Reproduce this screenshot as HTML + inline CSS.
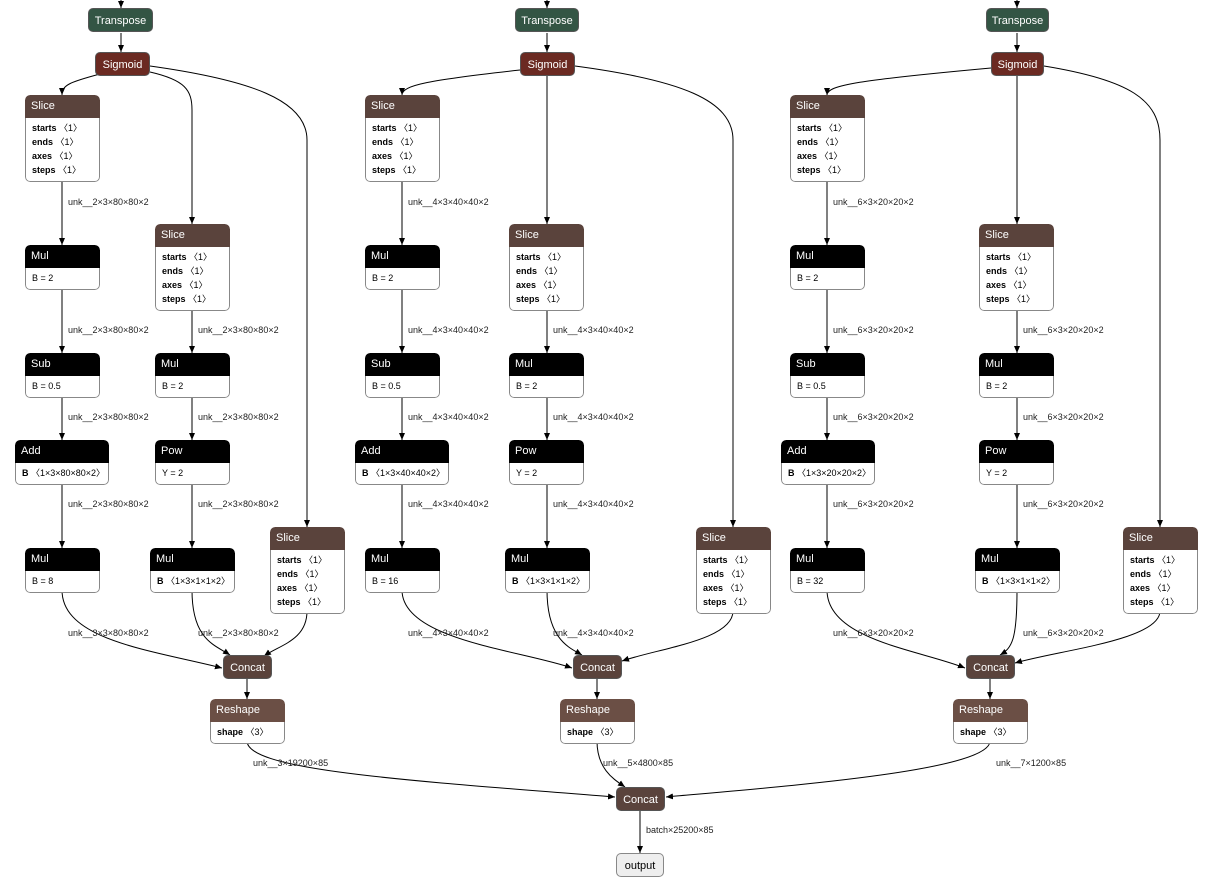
<!DOCTYPE html>
<html><head><meta charset="utf-8"><style>
body{margin:0;width:1214px;height:886px;background:#fff;position:relative;overflow:hidden;font-family:"Liberation Sans",sans-serif}
svg{position:absolute;left:0;top:0}
.n{position:absolute;border-radius:5px;overflow:hidden;box-sizing:border-box}
.h{height:23px;line-height:23px;padding-left:6px;color:#fff;font-size:11px;border-radius:5px 5px 0 0}
.b{background:#fff;border:1px solid #888;border-top:none;border-radius:0 0 5px 5px;padding:3px 6px 4px;font-size:9px;line-height:14px;color:#000;white-space:nowrap}
.b b{font-weight:bold}
.s{text-align:center;color:#fff;font-size:11px;height:24px;line-height:24px;padding:0;border:1px solid #555}
.sl{background:#5a433c}.bk{background:#000}.rs{background:#6b4f45}
.l{position:absolute;font-size:9px;color:#222;white-space:nowrap}
</style></head><body>
<svg width="1214" height="886" fill="none" stroke="#000" stroke-width="1">
<defs><marker id="a" markerWidth="8" markerHeight="8" refX="7" refY="4" orient="auto" markerUnits="userSpaceOnUse"><path d="M0,1 L7,4 L0,7 Z" fill="#000" stroke="none"/></marker></defs>
<g marker-end="url(#a)">
<path d="M121,0V8"/><path d="M121,33V52"/>
<path d="M100,74C70,82 62,85 62,95"/>
<path d="M150,72C185,80 192,90 192,110V224"/>
<path d="M150,66C250,80 307,100 307,140V527"/>
<path d="M62,180V245"/><path d="M62,287V353"/><path d="M62,395V440"/><path d="M62,482V548"/>
<path d="M192,308V353"/><path d="M192,395V440"/><path d="M192,482V548"/>
<path d="M62,590C62,640 150,650 222,668"/>
<path d="M192,590C192,640 215,645 230,655"/>
<path d="M307,611C307,640 280,645 264,656"/>
<path d="M247,678V699"/>
<path d="M247,741C247,770 400,780 615,797"/>

<path d="M547,0V8"/><path d="M547,33V52"/>
<path d="M520,70C430,80 402,85 402,95"/>
<path d="M547,76V224"/>
<path d="M575,66C680,80 733,100 733,140V527"/>
<path d="M402,180V245"/><path d="M402,287V353"/><path d="M402,395V440"/><path d="M402,482V548"/>
<path d="M547,308V353"/><path d="M547,395V440"/><path d="M547,482V548"/>
<path d="M402,590C402,640 520,650 572,668"/>
<path d="M547,590C547,640 570,648 582,655"/>
<path d="M733,611C733,640 660,648 622,661"/>
<path d="M597,678V699"/>
<path d="M597,741C597,770 615,780 625,787"/>

<path d="M1017,0V8"/><path d="M1017,33V52"/>
<path d="M991,68C860,80 827,85 827,95"/>
<path d="M1017,76V224"/>
<path d="M1044,66C1130,80 1160,100 1160,140V527"/>
<path d="M827,180V245"/><path d="M827,287V353"/><path d="M827,395V440"/><path d="M827,482V548"/>
<path d="M1017,308V353"/><path d="M1017,395V440"/><path d="M1017,482V548"/>
<path d="M827,590C827,640 920,650 965,668"/>
<path d="M1017,590C1017,640 1012,648 1000,655"/>
<path d="M1160,611C1160,640 1060,650 1015,663"/>
<path d="M990,678V699"/>
<path d="M990,741C990,770 800,785 666,797"/>
<path d="M640,810V853"/>
</g></svg>

<!-- group 1 -->
<div class="n s" style="left:88px;top:8px;width:65px;background:#335544">Transpose</div>
<div class="n s" style="left:95px;top:52px;width:55px;background:#6b2a22">Sigmoid</div>
<div class="n" style="left:25px;top:95px;width:75px"><div class="h sl">Slice</div><div class="b"><b>starts</b> 〈1〉<br><b>ends</b> 〈1〉<br><b>axes</b> 〈1〉<br><b>steps</b> 〈1〉</div></div>
<div class="n" style="left:25px;top:245px;width:75px"><div class="h bk">Mul</div><div class="b">B = 2</div></div>
<div class="n" style="left:25px;top:353px;width:75px"><div class="h bk">Sub</div><div class="b">B = 0.5</div></div>
<div class="n" style="left:15px;top:440px;width:94px"><div class="h bk">Add</div><div class="b"><b>B</b> 〈1×3×80×80×2〉</div></div>
<div class="n" style="left:25px;top:548px;width:75px"><div class="h bk">Mul</div><div class="b">B = 8</div></div>
<div class="n" style="left:155px;top:224px;width:75px"><div class="h sl">Slice</div><div class="b"><b>starts</b> 〈1〉<br><b>ends</b> 〈1〉<br><b>axes</b> 〈1〉<br><b>steps</b> 〈1〉</div></div>
<div class="n" style="left:155px;top:353px;width:75px"><div class="h bk">Mul</div><div class="b">B = 2</div></div>
<div class="n" style="left:155px;top:440px;width:75px"><div class="h bk">Pow</div><div class="b">Y = 2</div></div>
<div class="n" style="left:150px;top:548px;width:85px"><div class="h bk">Mul</div><div class="b"><b>B</b> 〈1×3×1×1×2〉</div></div>
<div class="n" style="left:270px;top:527px;width:75px"><div class="h sl">Slice</div><div class="b"><b>starts</b> 〈1〉<br><b>ends</b> 〈1〉<br><b>axes</b> 〈1〉<br><b>steps</b> 〈1〉</div></div>
<div class="n s sl" style="left:223px;top:655px;width:49px">Concat</div>
<div class="n" style="left:210px;top:699px;width:75px"><div class="h rs">Reshape</div><div class="b"><b>shape</b> 〈3〉</div></div>
<div class="l" style="left:68px;top:197px">unk__2×3×80×80×2</div>
<div class="l" style="left:68px;top:325px">unk__2×3×80×80×2</div>
<div class="l" style="left:68px;top:412px">unk__2×3×80×80×2</div>
<div class="l" style="left:68px;top:499px">unk__2×3×80×80×2</div>
<div class="l" style="left:68px;top:628px">unk__3×3×80×80×2</div>
<div class="l" style="left:198px;top:325px">unk__2×3×80×80×2</div>
<div class="l" style="left:198px;top:412px">unk__2×3×80×80×2</div>
<div class="l" style="left:198px;top:499px">unk__2×3×80×80×2</div>
<div class="l" style="left:198px;top:628px">unk__2×3×80×80×2</div>
<div class="l" style="left:253px;top:758px">unk__3×19200×85</div>

<!-- group 2 -->
<div class="n s" style="left:515px;top:8px;width:64px;background:#335544">Transpose</div>
<div class="n s" style="left:520px;top:52px;width:55px;background:#6b2a22">Sigmoid</div>
<div class="n" style="left:365px;top:95px;width:75px"><div class="h sl">Slice</div><div class="b"><b>starts</b> 〈1〉<br><b>ends</b> 〈1〉<br><b>axes</b> 〈1〉<br><b>steps</b> 〈1〉</div></div>
<div class="n" style="left:365px;top:245px;width:75px"><div class="h bk">Mul</div><div class="b">B = 2</div></div>
<div class="n" style="left:365px;top:353px;width:75px"><div class="h bk">Sub</div><div class="b">B = 0.5</div></div>
<div class="n" style="left:355px;top:440px;width:94px"><div class="h bk">Add</div><div class="b"><b>B</b> 〈1×3×40×40×2〉</div></div>
<div class="n" style="left:365px;top:548px;width:75px"><div class="h bk">Mul</div><div class="b">B = 16</div></div>
<div class="n" style="left:509px;top:224px;width:75px"><div class="h sl">Slice</div><div class="b"><b>starts</b> 〈1〉<br><b>ends</b> 〈1〉<br><b>axes</b> 〈1〉<br><b>steps</b> 〈1〉</div></div>
<div class="n" style="left:509px;top:353px;width:75px"><div class="h bk">Mul</div><div class="b">B = 2</div></div>
<div class="n" style="left:509px;top:440px;width:75px"><div class="h bk">Pow</div><div class="b">Y = 2</div></div>
<div class="n" style="left:505px;top:548px;width:85px"><div class="h bk">Mul</div><div class="b"><b>B</b> 〈1×3×1×1×2〉</div></div>
<div class="n" style="left:696px;top:527px;width:75px"><div class="h sl">Slice</div><div class="b"><b>starts</b> 〈1〉<br><b>ends</b> 〈1〉<br><b>axes</b> 〈1〉<br><b>steps</b> 〈1〉</div></div>
<div class="n s sl" style="left:573px;top:655px;width:49px">Concat</div>
<div class="n" style="left:560px;top:699px;width:75px"><div class="h rs">Reshape</div><div class="b"><b>shape</b> 〈3〉</div></div>
<div class="l" style="left:408px;top:197px">unk__4×3×40×40×2</div>
<div class="l" style="left:408px;top:325px">unk__4×3×40×40×2</div>
<div class="l" style="left:408px;top:412px">unk__4×3×40×40×2</div>
<div class="l" style="left:408px;top:499px">unk__4×3×40×40×2</div>
<div class="l" style="left:408px;top:628px">unk__4×3×40×40×2</div>
<div class="l" style="left:553px;top:325px">unk__4×3×40×40×2</div>
<div class="l" style="left:553px;top:412px">unk__4×3×40×40×2</div>
<div class="l" style="left:553px;top:499px">unk__4×3×40×40×2</div>
<div class="l" style="left:553px;top:628px">unk__4×3×40×40×2</div>
<div class="l" style="left:603px;top:758px">unk__5×4800×85</div>

<!-- group 3 -->
<div class="n s" style="left:986px;top:8px;width:63px;background:#335544">Transpose</div>
<div class="n s" style="left:991px;top:52px;width:53px;background:#6b2a22">Sigmoid</div>
<div class="n" style="left:790px;top:95px;width:75px"><div class="h sl">Slice</div><div class="b"><b>starts</b> 〈1〉<br><b>ends</b> 〈1〉<br><b>axes</b> 〈1〉<br><b>steps</b> 〈1〉</div></div>
<div class="n" style="left:790px;top:245px;width:75px"><div class="h bk">Mul</div><div class="b">B = 2</div></div>
<div class="n" style="left:790px;top:353px;width:75px"><div class="h bk">Sub</div><div class="b">B = 0.5</div></div>
<div class="n" style="left:781px;top:440px;width:94px"><div class="h bk">Add</div><div class="b"><b>B</b> 〈1×3×20×20×2〉</div></div>
<div class="n" style="left:790px;top:548px;width:75px"><div class="h bk">Mul</div><div class="b">B = 32</div></div>
<div class="n" style="left:979px;top:224px;width:75px"><div class="h sl">Slice</div><div class="b"><b>starts</b> 〈1〉<br><b>ends</b> 〈1〉<br><b>axes</b> 〈1〉<br><b>steps</b> 〈1〉</div></div>
<div class="n" style="left:979px;top:353px;width:75px"><div class="h bk">Mul</div><div class="b">B = 2</div></div>
<div class="n" style="left:979px;top:440px;width:75px"><div class="h bk">Pow</div><div class="b">Y = 2</div></div>
<div class="n" style="left:975px;top:548px;width:85px"><div class="h bk">Mul</div><div class="b"><b>B</b> 〈1×3×1×1×2〉</div></div>
<div class="n" style="left:1123px;top:527px;width:75px"><div class="h sl">Slice</div><div class="b"><b>starts</b> 〈1〉<br><b>ends</b> 〈1〉<br><b>axes</b> 〈1〉<br><b>steps</b> 〈1〉</div></div>
<div class="n s sl" style="left:966px;top:655px;width:49px">Concat</div>
<div class="n" style="left:953px;top:699px;width:75px"><div class="h rs">Reshape</div><div class="b"><b>shape</b> 〈3〉</div></div>
<div class="l" style="left:833px;top:197px">unk__6×3×20×20×2</div>
<div class="l" style="left:833px;top:325px">unk__6×3×20×20×2</div>
<div class="l" style="left:833px;top:412px">unk__6×3×20×20×2</div>
<div class="l" style="left:833px;top:499px">unk__6×3×20×20×2</div>
<div class="l" style="left:833px;top:628px">unk__6×3×20×20×2</div>
<div class="l" style="left:1023px;top:325px">unk__6×3×20×20×2</div>
<div class="l" style="left:1023px;top:412px">unk__6×3×20×20×2</div>
<div class="l" style="left:1023px;top:499px">unk__6×3×20×20×2</div>
<div class="l" style="left:1023px;top:628px">unk__6×3×20×20×2</div>
<div class="l" style="left:996px;top:758px">unk__7×1200×85</div>

<!-- final -->
<div class="n s sl" style="left:616px;top:787px;width:49px">Concat</div>
<div class="l" style="left:646px;top:825px">batch×25200×85</div>
<div class="n s" style="left:616px;top:853px;width:48px;background:#eee;color:#000;border-color:#888">output</div>
</body></html>
